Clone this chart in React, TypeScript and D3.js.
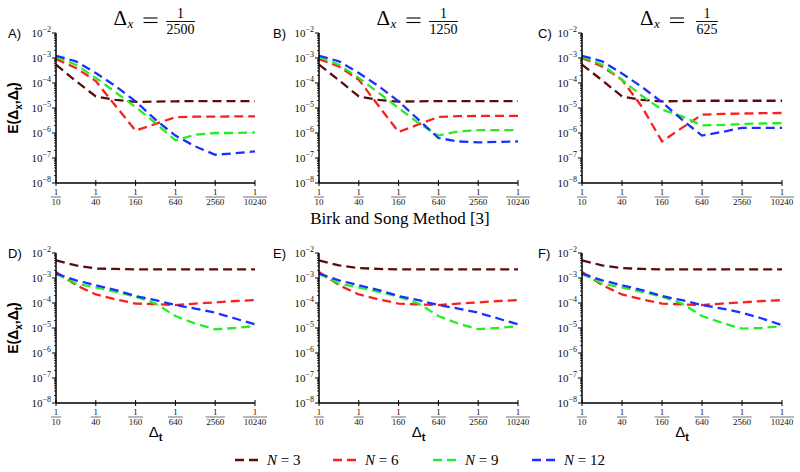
import React from "react";
import * as d3 from "d3";

const denoms = [10, 20, 40, 80, 160, 320, 640, 1280, 2560, 5120, 10240];
const tickDenoms = [10, 40, 160, 640, 2560, 10240];
const yTickExps = [-2, -3, -4, -5, -6, -7, -8];
const seriesNames = ["N = 3", "N = 6", "N = 9", "N = 12"];
const seriesColors = ["#5c0c0c", "#fa2020", "#22ee22", "#1a30ff"];
const topTitles = ["2500", "1250", "625"];
const panelLabels = ["A)", "B)", "C)", "D)", "E)", "F)"];

// Panel A (dx = 1/2500)
const A_N3 = [5.4e-4, 1.2e-4, 2.9e-5, 2.1e-5, 1.75e-5, 1.8e-5, 1.85e-5, 1.9e-5, 1.9e-5, 1.9e-5, 1.9e-5];
const A_N6 = [9e-4, 4e-4, 1.2e-4, 1.2e-5, 1.25e-6, 2.3e-6, 4.3e-6, 4.5e-6, 4.5e-6, 4.6e-6, 4.6e-6];
const A_N9 = [1.1e-3, 5.4e-4, 1.6e-4, 4.2e-5, 1.1e-5, 2.5e-6, 5.1e-7, 8.5e-7, 1.0e-6, 1.0e-6, 1.05e-6];
const A_N12 = [1.23e-3, 7.4e-4, 2.5e-4, 7.4e-5, 1.85e-5, 3.4e-6, 7.9e-7, 2.9e-7, 1.35e-7, 1.55e-7, 1.85e-7];
// Panel B (dx = 1/1250)
const B_N3 = [5.4e-4, 1.3e-4, 2.9e-5, 2.1e-5, 1.8e-5, 1.85e-5, 1.9e-5, 1.9e-5, 1.9e-5, 1.9e-5, 1.9e-5];
const B_N6 = [9e-4, 4.6e-4, 1.35e-4, 1.2e-5, 1.1e-6, 2.2e-6, 4.4e-6, 4.7e-6, 4.8e-6, 4.8e-6, 4.8e-6];
const B_N9 = [1.1e-3, 5.4e-4, 1.6e-4, 4e-5, 1e-5, 2.5e-6, 7.9e-7, 1.15e-6, 1.3e-6, 1.3e-6, 1.3e-6];
const B_N12 = [1.23e-3, 7.4e-4, 2.5e-4, 7.4e-5, 1.85e-5, 3.4e-6, 6.3e-7, 4.6e-7, 4.2e-7, 4.4e-7, 4.6e-7];
// Panel C (dx = 1/625)
const C_N3 = [5.4e-4, 1.3e-4, 2.9e-5, 2.1e-5, 1.85e-5, 1.9e-5, 1.95e-5, 1.95e-5, 1.95e-5, 1.95e-5, 1.95e-5];
const C_N6 = [1e-3, 4.6e-4, 1.35e-4, 1.1e-5, 4.6e-7, 1.6e-6, 5.4e-6, 5.8e-6, 6e-6, 6.2e-6, 6.3e-6];
const C_N9 = [1.1e-3, 5.4e-4, 1.35e-4, 3e-5, 8.6e-6, 4.6e-6, 2e-6, 2.1e-6, 2.3e-6, 2.4e-6, 2.5e-6];
const C_N12 = [1.23e-3, 7.4e-4, 2.4e-4, 6.9e-5, 1.7e-5, 3.4e-6, 7.9e-7, 1.1e-6, 1.6e-6, 1.6e-6, 1.6e-6];
// Panel D
const D_N3 = [5.1e-3, 3.2e-3, 2.4e-3, 2.3e-3, 2.2e-3, 2.2e-3, 2.2e-3, 2.2e-3, 2.2e-3, 2.2e-3, 2.2e-3];
const D_N6 = [1.75e-3, 5.2e-4, 2.2e-4, 1.4e-4, 9.5e-5, 9e-5, 8.3e-5, 9.5e-5, 1.05e-4, 1.2e-4, 1.3e-4];
const D_N9 = [1.5e-3, 6e-4, 4.2e-4, 2.8e-4, 1.8e-4, 9.5e-5, 3e-5, 1.5e-5, 8.9e-6, 1e-5, 1.2e-5];
const D_N12 = [1.5e-3, 8.1e-4, 5.1e-4, 3.3e-4, 1.9e-4, 1.3e-4, 8.3e-5, 6e-5, 4.1e-5, 2.4e-5, 1.4e-5];
// Panel E
const E_N3 = [5.1e-3, 3.2e-3, 2.5e-3, 2.3e-3, 2.2e-3, 2.2e-3, 2.2e-3, 2.2e-3, 2.2e-3, 2.2e-3, 2.2e-3];
const E_N6 = [1.75e-3, 5.2e-4, 2.2e-4, 1.4e-4, 9.5e-5, 8.8e-5, 8.3e-5, 9.5e-5, 1.05e-4, 1.2e-4, 1.3e-4];
const E_N9 = [1.5e-3, 6e-4, 4.2e-4, 2.8e-4, 1.8e-4, 9.5e-5, 3e-5, 1.5e-5, 9e-6, 1e-5, 1.2e-5];
const E_N12 = [1.5e-3, 8.1e-4, 5.1e-4, 3.3e-4, 1.9e-4, 1.3e-4, 8.3e-5, 6e-5, 4.1e-5, 2.4e-5, 1.4e-5];
// Panel F
const F_N3 = [5.1e-3, 3.2e-3, 2.5e-3, 2.3e-3, 2.2e-3, 2.2e-3, 2.2e-3, 2.2e-3, 2.2e-3, 2.2e-3, 2.2e-3];
const F_N6 = [1.75e-3, 5.2e-4, 2.2e-4, 1.4e-4, 9.5e-5, 8.8e-5, 8.3e-5, 9.5e-5, 1.05e-4, 1.2e-4, 1.3e-4];
const F_N9 = [1.5e-3, 6e-4, 4.2e-4, 2.8e-4, 1.8e-4, 9.5e-5, 3e-5, 1.6e-5, 9.5e-6, 1e-5, 1.2e-5];
const F_N12 = [1.5e-3, 8.1e-4, 5.1e-4, 3.3e-4, 1.9e-4, 1.3e-4, 8.3e-5, 6e-5, 4.1e-5, 2.4e-5, 1.3e-5];

const panelData = [
  [A_N3, A_N6, A_N9, A_N12],
  [B_N3, B_N6, B_N9, B_N12],
  [C_N3, C_N6, C_N9, C_N12],
  [D_N3, D_N6, D_N9, D_N12],
  [E_N3, E_N6, E_N9, E_N12],
  [F_N3, F_N6, F_N9, F_N12],
];

const colX = [
  [56, 255],
  [319, 518],
  [582, 782],
];
const rowY = [
  [33, 183],
  [253, 403],
];
const labelX = [8, 273, 538];

const SERIF = "'Liberation Serif', 'DejaVu Serif', serif";
const SANS = "'Liberation Sans', Arial, sans-serif";

function Panel({ idx }: { idx: number }) {
  const col = idx % 3;
  const row = Math.floor(idx / 3);
  const [x0, x1] = colX[col];
  const [y0, y1] = rowY[row];
  const x = d3.scaleLog().domain([10, 10240]).range([x0, x1]);
  const y = d3.scaleLog().domain([1e-8, 1e-2]).range([y1, y0]);
  const line = d3
    .line<number>()
    .x((_, i) => x(denoms[i]))
    .y((v) => y(v));

  const minor: number[] = [];
  for (let e = -8; e < -2; e++) {
    for (let k = 2; k <= 9; k++) minor.push(k * Math.pow(10, e));
  }

  return (
    <g>
      {panelData[idx].map((vals, s) => (
        <path
          key={s}
          d={line(vals) || ""}
          fill="none"
          stroke={seriesColors[s]}
          strokeWidth={2.3}
          strokeDasharray="9,5"
        />
      ))}
      <line x1={x0} x2={x0} y1={y0} y2={y1} stroke="#000" strokeWidth={1.5} />
      <line x1={x0} x2={x1} y1={y1} y2={y1} stroke="#000" strokeWidth={1.5} />
      {minor.map((m, i) => (
        <line key={"m" + i} x1={x0 - 2} x2={x0} y1={y(m)} y2={y(m)} stroke="#000" strokeWidth={0.8} />
      ))}
      {yTickExps.map((e) => (
        <g key={"y" + e}>
          <line x1={x0 - 4} x2={x0} y1={y(Math.pow(10, e))} y2={y(Math.pow(10, e))} stroke="#000" strokeWidth={1} />
          <text
            x={x0 - 5}
            y={y(Math.pow(10, e)) + 4}
            textAnchor="end"
            fontFamily={SERIF}
            fontSize={11}
            fill="#111"
          >
            10
            <tspan fontSize={8} dy={-5}>
              {"\u2212" + Math.abs(e)}
            </tspan>
          </text>
        </g>
      ))}
      {tickDenoms.map((dn) => {
        const tx = x(dn);
        const w = String(dn).length * 4.6 + 1;
        return (
          <g key={"x" + dn}>
            <line x1={tx} x2={tx} y1={y1 - 3} y2={y1 + 3} stroke="#000" strokeWidth={1} />
            <text x={tx} y={y1 + 12} textAnchor="middle" fontFamily={SERIF} fontSize={9} fill="#111">
              1
            </text>
            <line x1={tx - w / 2} x2={tx + w / 2} y1={y1 + 14} y2={y1 + 14} stroke="#111" strokeWidth={0.6} />
            <text x={tx} y={y1 + 21.5} textAnchor="middle" fontFamily={SERIF} fontSize={9} fill="#111">
              {dn}
            </text>
          </g>
        );
      })}
      <text x={labelX[col]} y={y0 + 5} fontFamily={SANS} fontSize={13} fill="#000">
        {panelLabels[idx]}
      </text>
      {col === 0 && (
        <text
          transform={`translate(${18},${(y0 + y1) / 2}) rotate(-90)`}
          textAnchor="middle"
          fontFamily={SANS}
          fontSize={14}
          fontWeight="bold"
          fill="#000"
        >
          E(Δ
          <tspan fontSize={10} dy={4}>x</tspan>
          <tspan dy={-4}>,Δ</tspan>
          <tspan fontSize={10} dy={4}>t</tspan>
          <tspan dy={-4}>)</tspan>
        </text>
      )}
      {row === 1 && (
        <text x={(x0 + x1) / 2} y={y1 + 34} textAnchor="middle" fontFamily={SANS} fontSize={15} fill="#000">
          Δ<tspan fontSize={11} fontWeight="bold" dy={4}>t</tspan>
        </text>
      )}
    </g>
  );
}

function Title({ cx, den }: { cx: number; den: string }) {
  const fw = den.length * 7 + 1;
  const fx = cx + 25;
  return (
    <g fontFamily={SERIF} fill="#000">
      <text x={cx - 42} y={25} fontSize={21}>
        Δ
      </text>
      <text x={cx - 28} y={28} fontSize={13} fontStyle="italic">
        x
      </text>
      <line x1={cx - 12} x2={cx + 2} y1={18} y2={18} stroke="#000" strokeWidth={1.1} />
      <line x1={cx - 12} x2={cx + 2} y1={22.5} y2={22.5} stroke="#000" strokeWidth={1.1} />
      <text x={fx} y={18} fontSize={14} textAnchor="middle">1</text>
      <line x1={fx - fw / 2} x2={fx + fw / 2} y1={21.5} y2={21.5} stroke="#000" strokeWidth={0.9} />
      <text x={fx} y={34} fontSize={14} textAnchor="middle">{den}</text>
    </g>
  );
}

export default function App() {
  const legendX = [235, 333, 433, 532];
  return (
    <svg
      width={800}
      height={472}
      style={{ position: "absolute", left: 0, top: 0, background: "#fff" }}
    >
      <rect width={800} height={472} fill="#fff" />
      {topTitles.map((t, i) => (
        <Title key={t} cx={(colX[i][0] + colX[i][1]) / 2} den={t} />
      ))}
      {panelLabels.map((_, i) => (
        <Panel key={i} idx={i} />
      ))}
      <text x={400} y={224} textAnchor="middle" fontFamily={SERIF} fontSize={17} fill="#000">
        Birk and Song Method [3]
      </text>
      {seriesNames.map((n, i) => {
        const parts = n.split(" = ");
        return (
          <g key={n}>
            <line
              x1={legendX[i]}
              x2={legendX[i] + 23}
              y1={460}
              y2={460}
              stroke={seriesColors[i]}
              strokeWidth={2.3}
              strokeDasharray="9,5"
            />
            <text x={legendX[i] + 32} y={465} fontFamily={SERIF} fontSize={15} fill="#000">
              <tspan fontStyle="italic">{parts[0]}</tspan> = {parts[1]}
            </text>
          </g>
        );
      })}
    </svg>
  );
}
